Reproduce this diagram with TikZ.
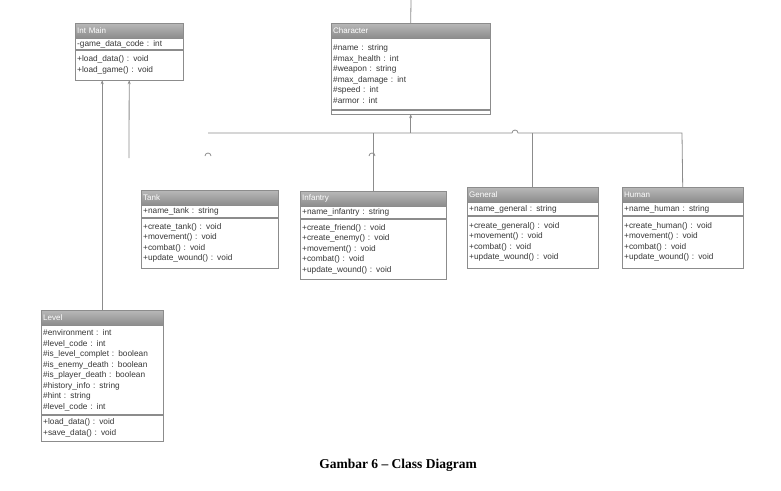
\documentclass[tikz,border=0pt]{standalone}
\usepackage{fontspec}
\setmainfont{Liberation Sans}
\newfontfamily\capfont{Liberation Serif}
\usepackage{tikz}
\usetikzlibrary{arrows.meta, positioning}
\usepackage{xcolor}
\definecolor{linegray}{RGB}{140,140,140}
\definecolor{hdtop}{RGB}{184,184,184}
\definecolor{hdbot}{RGB}{140,140,140}
\definecolor{txtgray}{RGB}{55,55,55}

\tikzset{
  clshd/.style={draw=linegray, top color=hdtop, bottom color=hdbot, text=white,
    font=\fontsize{8}{9}\selectfont, inner xsep=2pt, inner ysep=0pt,
    align=left, text width=#1, minimum height=15pt},
  clsbd/.style={draw=linegray, fill=white, text=txtgray,
    font=\fontsize{8.3}{10.5}\selectfont, inner xsep=2pt, inner ysep=0pt,
    align=left, text width=#1},
  conn/.style={draw=linegray, line width=0.8pt},
  tip/.tip={Stealth[length=4pt, width=3pt]}
}

\begin{document}
\begin{tikzpicture}[x=1pt, y=-1pt]
  \useasboundingbox (0,0) rectangle (781,490);
  % Int Main
  \node[clshd=104pt, anchor=north west] (imhd) at (75,23) {Int Main};
  \node[clsbd=104pt, below=0pt of imhd, minimum height=11pt] (imat) {-game\_data\_code : int};
  \node[clsbd=104pt, below=0pt of imat, minimum height=30pt] (imth) {+load\_data() : void\\+load\_game() : void};
  % Character
  \node[clshd=155pt, anchor=north west] (chhd) at (331,23) {Character};
  \node[clsbd=155pt, below=0pt of chhd, minimum height=71pt] (chat)
    {\#name : string\\\#max\_health : int\\\#weapon : string\\\#max\_damage : int\\\#speed : int\\\#armor : int};
  \node[clsbd=155pt, below=0pt of chat, minimum height=4pt] (chmt) {};
  % Tank
  \node[clshd=133pt, anchor=north west] (tnkhd) at (141,190) {Tank};
  \node[clsbd=133pt, below=0pt of tnkhd, minimum height=12pt] (tnkat) {+name\_tank : string};
  \node[clsbd=133pt, below=0pt of tnkat, minimum height=50pt] (tnkmt)
    {+create\_tank() : void\\+movement() : void\\+combat() : void\\+update\_wound() : void};
  % Infantry
  \node[clshd=142pt, anchor=north west] (infhd) at (300,191) {Infantry};
  \node[clsbd=142pt, below=0pt of infhd, minimum height=12pt] (infat) {+name\_infantry : string};
  \node[clsbd=142pt, below=0pt of infat, minimum height=60pt] (infmt)
    {+create\_friend() : void\\+create\_enemy() : void\\+movement() : void\\+combat() : void\\+update\_wound() : void};
  % General
  \node[clshd=127pt, anchor=north west] (genhd) at (467,187) {General};
  \node[clsbd=127pt, below=0pt of genhd, minimum height=13pt] (genat) {+name\_general : string};
  \node[clsbd=127pt, below=0pt of genat, minimum height=52pt] (genmt)
    {+create\_general() : void\\+movement() : void\\+combat() : void\\+update\_wound() : void};
  % Human
  \node[clshd=117pt, anchor=north west] (humhd) at (622,187) {Human};
  \node[clsbd=117pt, below=0pt of humhd, minimum height=13pt] (humat) {+name\_human : string};
  \node[clsbd=117pt, below=0pt of humat, minimum height=52pt] (hummt)
    {+create\_human() : void\\+movement() : void\\+combat() : void\\+update\_wound() : void};
  % Level
  \node[clshd=118pt, anchor=north west] (levhd) at (41,310) {Level};
  \node[clsbd=118pt, below=0pt of levhd, minimum height=89pt] (levat)
    {\#environment : int\\\#level\_code : int\\\#is\_level\_complet : boolean\\\#is\_enemy\_death : boolean\\
     \#is\_player\_death : boolean\\\#history\_info : string\\\#hint : string\\\#level\_code : int};
  \node[clsbd=118pt, below=0pt of levat, minimum height=26pt] (levmt) {+load\_data() : void\\+save\_data() : void};
  % connectors
  \coordinate (chtop) at (411,0);
  \coordinate (busl) at (208,133);
  \coordinate (busr) at (682,133);
  \coordinate (imend) at (129,158);
  \draw[conn] (chtop) -- (chhd.north);
  \draw[conn, tip-] (chmt.south) -- (chmt.south |- busl);
  \draw[conn] (busl) -- (512,133) arc[start angle=180, end angle=360, radius=3] -- (busr) -- (humhd.north);
  \draw[conn] (infhd.north) -- (infhd.north |- busl);
  \draw[conn] (genhd.north) -- (genhd.north |- busl);
  \draw[conn] (205,156) arc[start angle=180, end angle=360, radius=3];
  \draw[conn] (369,156) arc[start angle=180, end angle=360, radius=3];
  \draw[conn, tip-] (imth.south) -- (imend);
  \draw[conn, tip-] (imth.south -| levhd.north) -- (levhd.north);
  % caption
  \node[font=\capfont\bfseries\fontsize{13.5}{15}\selectfont] (caption) at (398,465) {Gambar 6 – Class Diagram};
\end{tikzpicture}
\end{document}
